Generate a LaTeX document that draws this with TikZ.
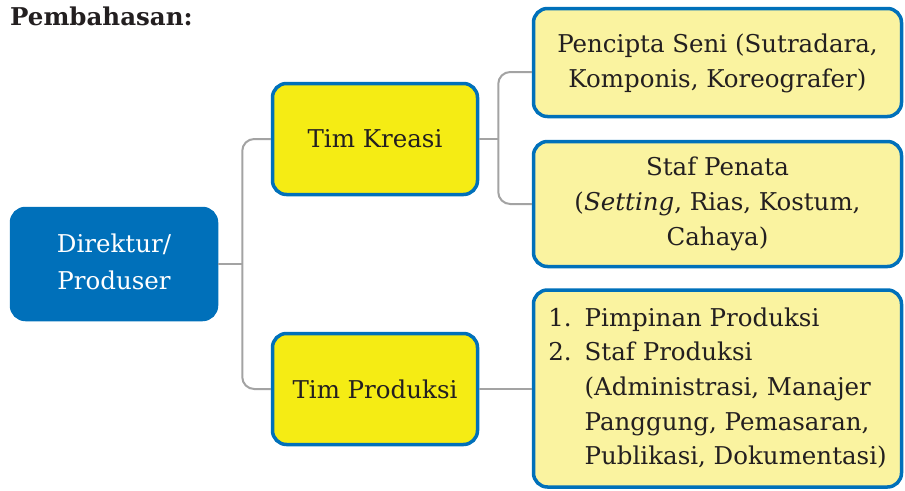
\documentclass[tikz,border=0pt]{standalone}
\usepackage{fontspec}
\setmainfont{DejaVu Serif}
\usetikzlibrary{calc}
\definecolor{bblue}{HTML}{0070BA}
\definecolor{byellow}{HTML}{F5EC14}
\definecolor{pyellow}{HTML}{FAF3A0}
\definecolor{lgray}{HTML}{A3A3A3}
\definecolor{txt}{HTML}{231F20}
\begin{document}
\begin{tikzpicture}[x=1pt,y=-1pt,
  basebox/.style={rounded corners=14pt,line width=3.5pt,draw=bblue,inner sep=0pt,align=center,
    text=txt,font=\fontsize{24.5}{35}\selectfont},
  dirbox/.style={basebox,fill=bblue,text=white,minimum width=205pt,minimum height=111pt},
  ybox/.style={basebox,fill=byellow,minimum width=205pt,minimum height=111pt},
  pbox/.style={basebox,fill=pyellow,minimum width=368pt},
  conn/.style={draw=lgray,line width=2pt,rounded corners=12pt}]
\useasboundingbox (0,0) rectangle (905,490);
\node[anchor=base west,font=\bfseries\fontsize{24.5}{28}\selectfont,text=txt,inner sep=0pt] (title) at (10,25) {Pembahasan:};
\node[dirbox,font=\fontsize{24.5}{37}\selectfont] (dir) at (114,264) {\raisebox{4pt}{\begin{tabular}{@{}c@{}}Direktur/\\Produser\end{tabular}}};
\node[ybox] (kreasi) at (375,139) {Tim Kreasi};
\node[ybox] (produksi) at (375,389) {Tim Produksi};
\node[pbox,minimum height=108pt] (pencipta) at (717.5,62.5) {\raisebox{1.5pt}{\begin{tabular}{@{}c@{}}Pencipta Seni (Sutradara,\\Komponis, Koreografer)\end{tabular}}};
\node[pbox,minimum height=125pt] (staf) at (717.5,204) {Staf Penata\\(\textit{Setting}, Rias, Kostum,\\Cahaya)};
\node[pbox,minimum height=197pt,font=\fontsize{24.5}{34.7}\selectfont] (list) at (717.5,388.5)
  {\raisebox{-2.5pt}{\begin{tabular}{@{}l@{\hspace{13pt}}l@{}}1. & Pimpinan Produksi\\2. & Staf Produksi\\ & (Administrasi, Manajer\\ & Panggung, Pemasaran,\\ & Publikasi, Dokumentasi)\end{tabular}}};
\begin{scope}[on background layer/.try]
\coordinate (j1) at ($(dir.east)+(24,0)$);
\coordinate (j2) at ($(kreasi.east)+(19,0)$);
\draw[conn] (dir.east) -- (j1);
\draw[conn] (kreasi.west) -| (j1) |- (produksi.west);
\draw[conn] (kreasi.east) -- (j2);
\draw[conn] ([yshift=-9.5pt]pencipta.west) -| (j2) |- (staf.west);
\draw[conn] (produksi.east) -- (produksi.east -| list.west);
\end{scope}
\end{tikzpicture}
\end{document}
